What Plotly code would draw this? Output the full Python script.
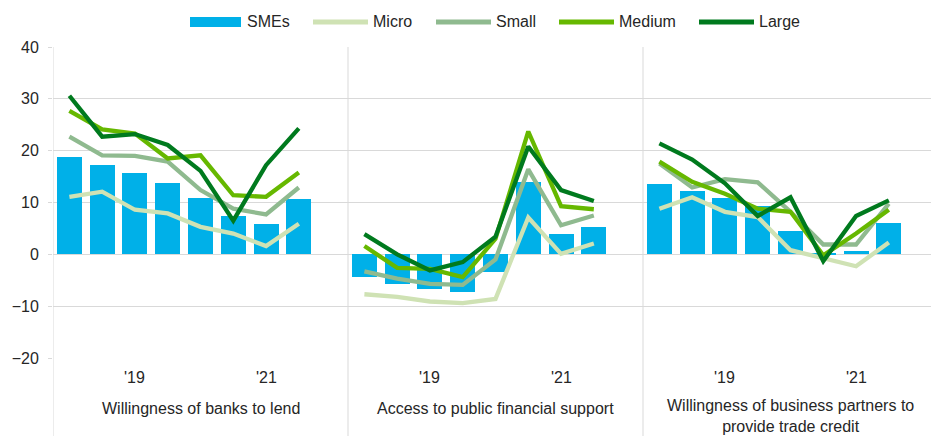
import plotly.graph_objects as go

# Survey rounds (8 per panel, one empty slot at the end of each panel)
panels = ["Willingness of banks to lend",
          "Access to public financial support",
          "Willingness of business partners to<br>provide trade credit"]
tick_labels = ["", "", "'19", "", "", "", "'21", ""]

# Net percentages, panels one after another
smes = [18.7, 17.3, 15.6, 13.7, 10.9, 7.4, 5.9, 10.6,
        -4.3, -5.7, -6.7, -7.3, -3.4, 13.9, 4.0, 5.3,
        13.5, 12.2, 10.8, 9.4, 4.5, 0.3, 0.6, 6.1]
micro = [11.1, 12.1, 8.6, 7.9, 5.3, 4.0, 1.6, 5.9,
         -7.7, -8.2, -9.1, -9.4, -8.6, 7.1, 0.1, 2.1,
         8.8, 11.0, 8.2, 7.2, 0.8, -0.8, -2.3, 2.3]
small = [22.7, 19.1, 19.0, 17.9, 12.4, 8.8, 7.7, 12.9,
         -3.3, -4.7, -5.7, -5.9, -1.0, 16.4, 5.6, 7.5,
         17.5, 12.9, 14.5, 13.9, 8.2, 1.9, 1.9, 9.8]
medium = [27.7, 24.1, 23.3, 18.5, 19.1, 11.4, 11.1, 15.8,
          1.6, -2.6, -2.8, -4.4, 3.0, 23.7, 9.3, 8.7,
          17.9, 14.0, 11.7, 8.8, 8.2, -0.2, 4.0, 8.6]
large = [30.6, 22.7, 23.2, 21.1, 16.1, 6.5, 17.2, 24.3,
         3.9, 0.0, -3.1, -1.5, 3.4, 20.8, 12.4, 10.3,
         21.4, 18.3, 13.7, 7.4, 11.0, -1.3, 7.4, 10.4]

n = len(tick_labels)
slot = n + 1  # one empty category after each panel
FONT = "Liberation Sans, Arial, sans-serif"
TXT = "#262626"
GRID = "#D9D9D9"

# x positions of each value
xs = [p * slot + i for p in range(len(panels)) for i in range(n)]


def with_gaps(vals):
    x, y = [], []
    for p in range(len(panels)):
        x += xs[p * n:(p + 1) * n] + [None]
        y += vals[p * n:(p + 1) * n] + [None]
    return x, y


fig = go.Figure()
fig.add_trace(go.Bar(x=xs, y=smes, width=0.76, marker=dict(color="#00B0E8", line=dict(width=0)),
                     name="SMEs", showlegend=False))

series = [("Micro", micro, "#CFE2B4"), ("Small", small, "#8FBA8F"),
          ("Medium", medium, "#66B800"), ("Large", large, "#007A1E")]
for name, vals, col in series:
    x, y = with_gaps(vals)
    fig.add_trace(go.Scatter(x=x, y=y, mode="lines", name=name, showlegend=False,
                             line=dict(color=col, width=4.3), connectgaps=False))

# page body has an 8px margin, so the figure is shrunk and offset by it
OFF = 8
W, H = 939 - OFF, 436 - OFF
L, T = 53 - OFF, 47 - OFF
R = W - (938 - OFF)
B = H - (358 - OFF)
ph = H - T - B
pw = W - L - R


def py(pix):  # window pixel row -> paper y
    return (358 - pix) / ph


def px(pix):  # window pixel col -> paper x
    return (pix - 53) / pw


shapes = []
# panel dividers, running down through the label area
for k in range(len(panels) + 1):
    shapes.append(dict(type="line", xref="x", yref="paper", x0=k * slot - 0.5, x1=k * slot - 0.5,
                       y0=py(436), y1=1, line=dict(color=GRID, width=1), layer="below"))

annotations = []
for p, title in enumerate(panels):
    for i, lab in enumerate(tick_labels):
        if lab:
            annotations.append(dict(x=p * slot + i, y=py(377), xref="x", yref="paper", text=lab,
                                    yanchor="middle", showarrow=False,
                                    font=dict(size=16, color=TXT, family=FONT)))
    ty = 408 if "<br>" not in title else 416
    annotations.append(dict(x=p * slot + (slot - 1) / 2, y=py(ty), xref="x", yref="paper", text=title,
                            yanchor="middle", showarrow=False,
                            font=dict(size=16, color=TXT, family=FONT)))

# legend drawn by hand
ly = py(22)
shapes.append(dict(type="rect", xref="paper", yref="paper", x0=px(190), x1=px(241),
                   y0=py(27), y1=py(17), fillcolor="#00B0E8", line=dict(width=0)))
annotations.append(dict(x=px(245), y=ly, xref="paper", yref="paper", text="SMEs", xanchor="left",
                        yanchor="middle", showarrow=False, font=dict(size=16, color=TXT, family=FONT)))
leg_x = [313, 436, 559, 699]
for (name, vals, col), x0 in zip(series, leg_x):
    shapes.append(dict(type="line", xref="paper", yref="paper", x0=px(x0), x1=px(x0 + 55),
                       y0=ly, y1=ly, line=dict(color=col, width=5)))
    annotations.append(dict(x=px(x0 + 58), y=ly, xref="paper", yref="paper", text=name, xanchor="left",
                            yanchor="middle", showarrow=False,
                            font=dict(size=16, color=TXT, family=FONT)))

fig.update_layout(
    width=W, height=H,
    margin=dict(l=L, r=R, t=T, b=B),
    plot_bgcolor="white", paper_bgcolor="white",
    shapes=shapes, annotations=annotations,
    bargap=0,
    xaxis=dict(range=[-0.5, len(panels) * slot - 0.5], showgrid=False, zeroline=False,
               showticklabels=False, ticks=""),
    yaxis=dict(range=[-20, 40], dtick=10, gridcolor=GRID, gridwidth=1, zeroline=True,
               zerolinecolor=GRID, zerolinewidth=1, ticks="outside", ticklen=4, tickcolor=GRID,
               ticklabelstandoff=6, tickfont=dict(size=16, color=TXT, family=FONT), showline=False),
)

fig.write_html("out.html")
